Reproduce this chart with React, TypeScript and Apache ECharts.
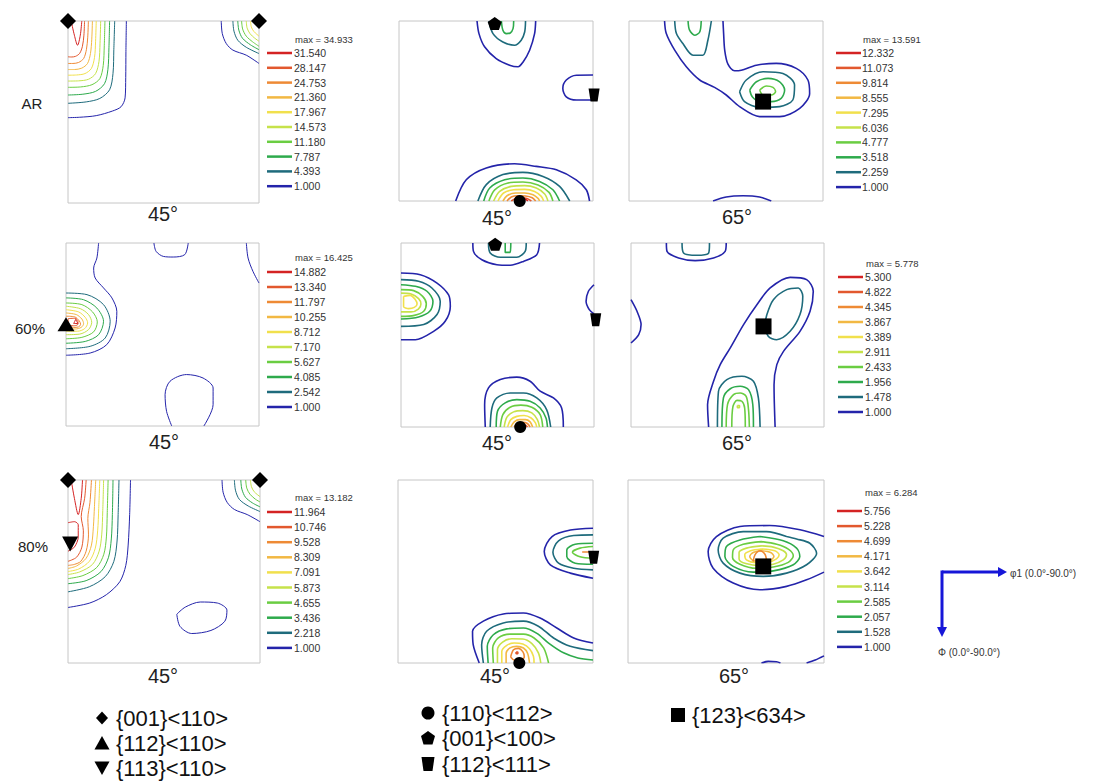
import React, { useEffect, useRef } from "react";
import * as echarts from "echarts";

// ---------- colours of the ten contour levels (level 1 = lowest) ----------
const LEVEL_COLORS = ["#2424aa", "#1e6b7c", "#2eaa4c", "#6acd42", "#c6e24a", "#f1e04c", "#f2b843", "#ee8a35", "#e2582e", "#d42323"];

// ---------- legend values (top = highest level) ----------
const legendAR45 = ["31.540", "28.147", "24.753", "21.360", "17.967", "14.573", "11.180", "7.787", "4.393", "1.000"];
const maxAR45 = "34.933";
const legendAR65 = ["12.332", "11.073", "9.814", "8.555", "7.295", "6.036", "4.777", "3.518", "2.259", "1.000"];
const maxAR65 = "13.591";
const legend60_45 = ["14.882", "13.340", "11.797", "10.255", "8.712", "7.170", "5.627", "4.085", "2.542", "1.000"];
const max60_45 = "16.425";
const legend60_65 = ["5.300", "4.822", "4.345", "3.867", "3.389", "2.911", "2.433", "1.956", "1.478", "1.000"];
const max60_65 = "5.778";
const legend80_45 = ["11.964", "10.746", "9.528", "8.309", "7.091", "5.873", "4.655", "3.436", "2.218", "1.000"];
const max80_45 = "13.182";
const legend80_65 = ["5.756", "5.228", "4.699", "4.171", "3.642", "3.114", "2.585", "2.057", "1.528", "1.000"];
const max80_65 = "6.284";

const rowLabels = ["AR", "60%", "80%"];
const sectionLabels = ["45°", "45°", "65°"];

// ---------- contour lines: [level, [[phi1, Phi], ...]] ----------
const cAR45a: [number, number[][]][] = [
  [1, [[27.5, 0], [27.3, 15], [27.2, 28], [26.9, 38], [25, 42.4], [21, 44.5], [13.3, 46.8], [5.5, 47.6], [0, 47.8]]],
  [2, [[22, 0], [21.6, 14], [21.2, 26], [19.6, 34], [15, 38.3], [8.6, 40], [0, 40.7]]],
  [3, [[19.6, 0], [19.3, 13], [18.8, 24], [17.2, 31], [13, 34.8], [7, 36.2], [0, 36.6]]],
  [4, [[17.4, 0], [17.1, 12], [16.6, 22], [15, 28.5], [11.3, 31.5], [6, 32.6], [0, 32.8]]],
  [5, [[15.4, 0], [15.1, 11], [14.6, 20], [13, 26], [9.7, 28.8], [5, 29.6], [0, 29.7]]],
  [6, [[13.3, 0], [13, 10], [12.5, 18], [11, 23.5], [8, 26], [4, 26.7], [0, 26.8]]],
  [7, [[11.5, 0], [11.2, 9], [10.6, 16], [9.2, 21], [6.5, 23.3], [3, 24], [0, 24]]],
  [8, [[9.6, 0], [9.3, 8], [8.7, 14], [7.4, 18.5], [5, 20.5], [2.3, 21], [0, 21]]],
  [9, [[7.8, 0], [7.5, 7], [6.8, 12.5], [5.5, 16], [3.5, 17.5], [1.5, 17.8], [0, 17.7]]],
  [10, [[1.5, 0], [3, 7], [4.5, 12], [5.8, 7], [6.5, 0]]],
  [1, [[72.2, 0], [72.7, 6.2], [74.6, 11.2], [77.7, 14.4], [84, 16.9], [90, 21]]],
  [2, [[77.7, 0], [78.2, 5], [80, 9.5], [84, 13], [90, 16.1]]],
  [3, [[80, 0], [80.5, 4.5], [82.2, 8.5], [86, 11.8], [90, 14.2]]],
  [4, [[81.8, 0], [82.3, 4], [84, 7.5], [87, 10.3], [90, 12.5]]],
  [5, [[84, 0], [84.4, 3.5], [85.8, 6.3], [88, 8.5], [90, 10]]],
  [6, [[86, 0], [86.4, 3], [87.6, 5.2], [90, 7.5]]],
];
const cAR45b: [number, number[][]][] = [
  [1, [[36.2, 0], [37.1, 6.3], [39.7, 12.9], [45.1, 18.8], [51.3, 22.1], [55.2, 22.9], [57.5, 20.6], [60.6, 14.6], [62.9, 6.3], [63.4, 0]]],
  [2, [[41.7, 0], [43.6, 6.3], [48.2, 10.5], [53.6, 12.1], [56.7, 9.6], [58.3, 5.5], [58.7, 0]]],
  [3, [[47.5, 0], [48.2, 4.6], [49.8, 6.3], [51.6, 6], [52.9, 3.8], [53.2, 0]]],
  [1, [[90, 27], [82.3, 27.1], [77.6, 29.5], [76, 33.7], [77.6, 37.9], [82.3, 39.5], [90, 39.5]]],
  [1, [[26.3, 90], [31.2, 79.4], [40.5, 73.5], [53.6, 71.4], [63.7, 72.7], [73, 74.4], [82.2, 79.4], [86.9, 84.4], [88.4, 90]]],
  [2, [[36.6, 90], [40.5, 81.8], [48.2, 76.8], [57.5, 75.7], [66.8, 77.7], [74.5, 82.7], [79.2, 90]]],
  [3, [[39.3, 90], [42.1, 83.5], [49, 79.4], [57.5, 78.5], [65.2, 80.2], [71.4, 84.4], [74.5, 90]]],
  [4, [[41.7, 90], [44.4, 84.4], [50.6, 81], [57.5, 80.5], [64.5, 82], [69.6, 85.7], [71.4, 90]]],
  [5, [[43.9, 90], [46.7, 85.2], [52.1, 82.7], [58.3, 82.3], [63.7, 83.5], [67.6, 86.5], [69.1, 90]]],
  [6, [[45.9, 90], [48.5, 86], [53.2, 84.4], [58.3, 84.2], [62.9, 85.2], [66, 87.7], [67.1, 90]]],
  [7, [[48.2, 90], [50.1, 87.4], [54.1, 86], [58.3, 86], [62.2, 86.9], [64.5, 88.7], [65.2, 90]]],
  [8, [[50.1, 90], [52.1, 88], [55.2, 87.4], [58.7, 87.5], [61.8, 88.4], [63.4, 90]]],
  [9, [[52.1, 90], [54.1, 88.7], [56.7, 88.4], [59.4, 88.7], [61.4, 90]]],
  [10, [[54.1, 90], [56, 89], [58.3, 89], [59.8, 90]]],
];
const cAR65: [number, number[][]][] = [
  [1, [[16.5, 0], [17.3, 6.3], [21.2, 14.6], [26.6, 22.9], [32.8, 29.5], [39.7, 33.2], [45.1, 37], [51.3, 42.8], [60.6, 47.8], [69.9, 47.8], [79.2, 43.7], [83.8, 36.2], [83, 29.5], [77.6, 23.7], [68.3, 21.2], [59.1, 22.1], [52.1, 24.6], [49, 24.9], [45.9, 21.6], [44.4, 14.6], [43.9, 6.3], [43.6, 0]]],
  [2, [[21.2, 0], [22, 6.3], [25, 11.3], [29.7, 17.1], [34.3, 17.1], [36.6, 9.6], [38.2, 0]]],
  [3, [[27.4, 0], [28.1, 4.6], [30.5, 7.1], [32.8, 5.5], [33.5, 0]]],
  [2, [[51.3, 35.4], [54.4, 29.5], [62.2, 25.4], [71.4, 26.2], [76.8, 32], [76, 39.5], [69.9, 42.8], [60.6, 43.2], [53.6, 40.3], [51.3, 35.4]]],
  [3, [[56, 34.5], [59.1, 30.4], [64.5, 28.7], [69.9, 30.4], [72.2, 34.5], [70.6, 38.7], [66, 40.3], [60.6, 40.3], [57.2, 37.9], [56, 34.5]]],
  [4, [[60.6, 34.5], [63.7, 32.5], [66.8, 33.2], [68, 35.4], [66, 37], [62.2, 37], [60.6, 34.5]]],
  [1, [[39, 90], [45.1, 88], [52.9, 87.4], [60.6, 88], [66, 90]]],
];
const c60_45a: [number, number[][]][] = [
  [1, [[15.2, 0], [14.4, 7.4], [12.9, 12.3], [13.6, 17.2], [17.5, 22.1], [21.4, 27], [23.7, 33.6], [22.9, 41.8], [19, 50], [11.3, 54.1], [0, 55.2]]],
  [1, [[41, 0], [42, 4.1], [45.4, 6.6], [50, 6.9], [55.4, 5.7], [57, 0]]],
  [1, [[84.1, 0], [84.9, 7.4], [87.2, 14], [90, 19.7]]],
  [1, [[49.3, 90], [46.9, 82.8], [46.2, 74.6], [48.5, 68], [56.2, 64.7], [63.9, 66.4], [68.6, 71.3], [68.6, 79.5], [64.3, 90]]],
  [2, [[0, 24.6], [9.8, 25.4], [17.5, 30.3], [20.6, 38.5], [18.3, 46.7], [11.3, 50.8], [0, 52]]],
  [3, [[0, 27], [8.2, 27.9], [14.4, 32], [17.5, 38.5], [15.2, 45.1], [9, 48.4], [0, 49.3]]],
  [4, [[0, 29.5], [7.4, 30.3], [12.4, 33.9], [14.6, 38.8], [12.9, 43.7], [7.4, 46.4], [0, 47.1]]],
  [5, [[0, 31.1], [6.7, 32.3], [10.5, 35.2], [12, 39], [10.5, 42.6], [6.4, 44.8], [0, 45.1]]],
  [6, [[0, 32.8], [5.9, 33.9], [9, 36.6], [10.1, 39.3], [8.7, 42.1], [5.4, 43.4], [0, 43.4]]],
  [7, [[0, 34.4], [4.8, 35.2], [7.4, 37.4], [8.2, 39.7], [7.1, 41.5], [4.3, 42.3], [0, 42.1]]],
  [8, [[0, 36], [4, 36.3], [6.2, 38.3], [6.8, 40], [5.8, 41.3], [3.5, 41.5], [0, 41.2]]],
  [9, [[1, 37.2], [4.2, 37], [5.6, 38.6], [5.4, 40.2], [3.4, 40.7], [1.2, 40.2], [1, 37.2]]],
  [10, [[4.5, 37.6], [5.6, 39.6], [3.6, 39.6], [4.5, 37.6]]],
];
const c60_45b: [number, number[][]][] = [
  [1, [[33.5, 0], [33.8, 4.1], [37.7, 8.2], [44.7, 10.6], [50.9, 10.9], [57.1, 9], [63.3, 5.7], [64.6, 0]]],
  [2, [[40.8, 0], [41.6, 4.9], [46.3, 7], [54, 7], [57.9, 4.1], [58.4, 0]]],
  [3, [[48.6, 0], [48.6, 4.6], [50.9, 4.6], [51.2, 0]]],
  [1, [[0, 14.7], [9, 15.5], [16.8, 19.6], [22.2, 25.4], [23, 31], [20.6, 38.3], [15.2, 43.2], [6.7, 47.3], [0, 47.3]]],
  [2, [[0, 17.9], [8.2, 18.7], [14.4, 22], [18.3, 28.5], [16.8, 35], [10.6, 39.9], [0, 40.8]]],
  [3, [[0, 20.4], [6.7, 21.2], [12.1, 23.6], [14.9, 28.5], [13.4, 33.4], [8.2, 36.2], [0, 37.2]]],
  [4, [[0, 22.8], [5.9, 23.3], [10.1, 26.1], [11.8, 29.7], [10.6, 33.4], [6.2, 35.4], [0, 35.9]]],
  [5, [[0, 24.5], [4.7, 24.9], [8.2, 27.2], [9.3, 29.8], [8.1, 32.3], [4.7, 33.7], [0, 33.7]]],
  [6, [[1.2, 26.1], [4.3, 25.6], [6.7, 27.7], [7.5, 29.8], [6.2, 31.5], [3.6, 32.1], [1.2, 31], [1.2, 26.1]]],
  [1, [[90, 20.4], [87.4, 23.6], [86.3, 28.5], [87.8, 32.6], [90, 34.7]]],
  [1, [[39.3, 90], [39, 79.1], [40.8, 70.9], [46.3, 66.8], [54, 65.6], [60.2, 67.6], [64.9, 72.5], [71.1, 75.8], [74.9, 80.7], [75.7, 90]]],
  [2, [[41.6, 90], [42.4, 80.7], [44.7, 75.8], [50.9, 73.4], [57.1, 73.4], [63.3, 75.8], [67.9, 81.5], [69.8, 90]]],
  [3, [[44.4, 90], [45, 82.3], [48.6, 78.2], [54, 76.6], [60.2, 77.4], [64.9, 80.7], [67.6, 85.6], [68.3, 90]]],
  [4, [[46.3, 90], [47.5, 83.9], [50.9, 80.3], [55.9, 79.3], [61, 80.3], [64.9, 83.9], [66.1, 90]]],
  [5, [[48.1, 90], [49.4, 85.2], [52.5, 82.6], [56.8, 82], [61, 83.1], [63.6, 86.4], [64.6, 90]]],
  [6, [[49.7, 90], [51.2, 86.4], [54, 84.8], [57.4, 84.4], [60.7, 85.6], [62.7, 88], [63.3, 90]]],
  [7, [[51.2, 90], [52.8, 87.5], [55.2, 86.4], [58, 86.4], [60.2, 87.5], [61.4, 90]]],
  [8, [[52.8, 90], [54.3, 88.2], [56.8, 87.7], [58.9, 88.3], [60.2, 90]]],
  [9, [[54.3, 90], [55.9, 88.9], [57.7, 88.9], [59, 90]]],
];
const c60_65: [number, number[][]][] = [
  [1, [[16.5, 0], [16.8, 4.1], [22.2, 7.3], [29.9, 8.6], [38.5, 7.3], [43.9, 4.1], [44.4, 0]]],
  [1, [[0, 27.7], [2.8, 33.4], [4.7, 39.9], [3.6, 44.8], [0, 48.9]]],
  [1, [[36.2, 90], [35.7, 79.1], [38.5, 67.6], [41.6, 59.5], [46.3, 51.3], [52.5, 39.9], [58.7, 30.2], [64.9, 22], [74.2, 16.8], [81.9, 17.9], [85, 23.6], [83.5, 33.4], [78.8, 43.2], [71.1, 53], [68, 59.5], [66.7, 69.3], [67.2, 90]]],
  [2, [[23.8, 0], [24.5, 4.9], [30.7, 6], [36.2, 4.9], [36.6, 0]]],
  [2, [[63.3, 35.2], [66.4, 27.7], [72.6, 22.8], [78, 22], [80.1, 26], [78.8, 35], [74.2, 43.2], [67.9, 47.3], [64, 45.6], [62.5, 39.9], [63.3, 35.2]]],
  [2, [[40.3, 90], [40.8, 72.5], [44.7, 66.8], [51.7, 65.2], [57.1, 67.6], [59.4, 75.8], [60.2, 90]]],
  [3, [[42.4, 90], [43.1, 75.8], [46.3, 71.3], [50.9, 70.1], [54.8, 71.7], [56.8, 79.1], [57.1, 90]]],
  [4, [[44.4, 90], [45, 79.1], [47.8, 74.2], [50.9, 73.4], [53.7, 75], [54.8, 81.5], [55.2, 90]]],
  [4, [[47, 90], [47.5, 80.2], [49.4, 77], [51.7, 77.4], [53, 80.7], [53.3, 90]]],
  [5, [[49.6, 79.5], [50.6, 79.5], [50.6, 80.5], [49.6, 80.5], [49.6, 79.5]]],
];
const c80_45a: [number, number[][]][] = [
  [1, [[29.3, 0], [28.9, 17], [28.2, 32], [27.1, 42], [24.3, 50], [18, 56.4], [10.2, 60.5], [0, 62.7]]],
  [2, [[23.9, 0], [23.5, 17], [23, 30], [21.5, 40], [17.5, 47.5], [10, 52.5], [0, 55]]],
  [3, [[21.1, 0], [20.8, 17], [20.3, 29], [19, 38], [15.5, 45], [8.5, 49.5], [0, 51]]],
  [4, [[18.8, 0], [18.4, 16], [18, 28], [16.8, 36.5], [13.5, 43], [7, 47], [0, 48.5]]],
  [5, [[16.7, 0], [16.3, 15], [15.8, 27], [14.6, 35], [11.5, 41.5], [5.5, 45.2], [0, 46.5]]],
  [6, [[14.9, 0], [14.4, 14], [13.9, 25], [12.8, 33.5], [10, 40], [5, 43.8], [0, 45]]],
  [7, [[13, 0], [12.4, 13], [11.9, 23], [11, 32], [8.5, 38.5], [4, 42.3], [0, 43.5]]],
  [8, [[11, 0], [10.3, 11], [9.3, 19], [9.6, 27], [8.5, 35], [6, 40], [3, 41.5], [0, 42]]],
  [9, [[8.5, 0], [7.8, 9], [6.2, 18], [7.2, 25], [6.5, 33], [4, 38], [0, 40]]],
  [10, [[1.5, 0], [3, 9], [4.8, 17], [6.2, 9], [6.8, 0]]],
  [10, [[0, 21], [3, 20.5], [4.8, 22], [4.8, 28], [3, 33], [0, 35]]],
  [1, [[72.2, 0], [72.7, 6], [74.6, 11], [78, 14.5], [84, 17], [90, 20.5]]],
  [2, [[78, 0], [78.5, 5], [80.3, 9.5], [84.5, 12.8], [90, 15.5]]],
  [3, [[81, 0], [81.5, 4.5], [83.2, 8.5], [86.5, 11.3], [90, 13.2]]],
  [4, [[83.3, 0], [83.8, 4], [85.3, 7], [87.8, 9.4], [90, 10.8]]],
  [5, [[85.5, 0], [86, 3.3], [87.3, 5.8], [90, 8.2]]],
  [1, [[51, 66], [55, 62.5], [62, 60], [70, 60.5], [74.5, 64], [73.5, 69.5], [67, 74], [58, 75.5], [52.5, 72], [51, 66]]],
];
const c80_45b: [number, number[][]][] = [
  [1, [[90, 23.7], [79.6, 24.6], [71.1, 27.8], [67.5, 35.2], [70.3, 41.7], [79.5, 45.8], [90, 48.3]]],
  [2, [[90, 27], [81.1, 27.3], [74.1, 29.9], [71.5, 35.5], [74.1, 40.9], [81.1, 43.4], [90, 44.2]]],
  [3, [[90, 31.1], [81.8, 31.6], [77.9, 34.4], [77.9, 37.6], [81.8, 40.9], [90, 41.4]]],
  [4, [[90, 32.7], [84, 33.5], [80.5, 35.5], [84, 37.8], [90, 38.6]]],
  [8, [[85, 35.4], [90, 35.4]]],
  [1, [[37.5, 90], [34.7, 81], [34.4, 74.4], [39.4, 69.4], [48.6, 65.9], [57.9, 65.4], [65.6, 67.9], [73.3, 72.8], [81.1, 77.7], [90, 80.2]]],
  [2, [[39.4, 90], [38.6, 81], [40.9, 74.4], [48.6, 70.3], [57.9, 69.4], [64.8, 71.9], [71.8, 77.7], [79.5, 81.8], [90, 83.9]]],
  [3, [[41.6, 90], [41.2, 81.8], [44, 76.1], [50.2, 73.2], [57.9, 72.8], [64.1, 75.4], [69.5, 80.2], [76.4, 85], [83, 87.5], [90, 88.5]]],
  [4, [[44, 90], [43.7, 82.6], [46.3, 77.7], [51.7, 75.8], [57.9, 75.8], [62.8, 77.7], [67.2, 82.6], [69.5, 90]]],
  [5, [[45.9, 90], [45.9, 83.5], [48.3, 79.7], [52.5, 78.1], [57.6, 78.2], [61.8, 80.5], [64.8, 85], [65.9, 90]]],
  [6, [[47.9, 90], [47.9, 84.3], [50.2, 81.3], [53.6, 80.2], [57.6, 80.7], [60.7, 83], [62.5, 86.7], [62.8, 90]]],
  [7, [[49.9, 90], [49.9, 85.2], [51.7, 82.6], [54.8, 81.8], [57.9, 82.6], [59.8, 85.2], [60.7, 90]]],
  [8, [[52, 87], [53.3, 83.5], [55.6, 82.8], [57.6, 84.4], [58.3, 87], [56.7, 88.5], [53.6, 88.5], [52, 87]]],
  [9, [[54.5, 84.6], [55.3, 84.6], [55.3, 85.4], [54.5, 85.4], [54.5, 84.6]]],
];
const c80_65: [number, number[][]][] = [
  [1, [[90, 27.8], [79, 24.5], [65.1, 22.4], [51.4, 22.9], [40.6, 27.8], [36.8, 35.2], [39.1, 43.4], [48.3, 50.7], [60.6, 54], [72.8, 52.3], [82, 49.1], [90, 45.3]]],
  [2, [[72.8, 27.8], [63.6, 25.4], [52.9, 25.4], [43.7, 28.6], [41.4, 34.4], [43.7, 40.9], [51.4, 45.8], [62.1, 47.4], [72.8, 45.8], [82, 41.7], [86.6, 36], [83.5, 31.1], [77.4, 29], [72.8, 27.8]]],
  [3, [[60.6, 27.8], [51.4, 29.5], [45.2, 32.7], [44.5, 37.6], [48.3, 42.5], [57.5, 45.3], [66.7, 44.7], [75.9, 41.7], [78.9, 37.6], [77.4, 33.5], [71.3, 29.9], [60.6, 27.8]]],
  [4, [[61.3, 30.3], [52.9, 31.6], [48.3, 34.4], [48, 38.1], [51.4, 41.4], [59, 43.4], [66.7, 42.8], [73.6, 40.5], [75.9, 37.2], [73.6, 34], [68.3, 31.6], [61.3, 30.3]]],
  [5, [[61.3, 32.4], [54.4, 33.5], [51, 35.7], [51, 38.8], [54.1, 41.1], [60.6, 42.1], [66.7, 41.4], [71.3, 39.3], [72.8, 36.8], [71.3, 34.8], [66.7, 33], [61.3, 32.4]]],
  [6, [[61.3, 33.9], [56.3, 34.8], [53.6, 36.8], [54.4, 39.3], [59, 40.7], [64.4, 40.4], [68.2, 38.8], [69.4, 36.8], [67.4, 34.8], [61.3, 33.9]]],
  [7, [[61.3, 34.8], [57.5, 35.7], [55.9, 37.6], [57.5, 39.6], [61.3, 40.1], [65.1, 39.6], [67, 37.6], [65.5, 35.7], [61.3, 34.8]]],
  [8, [[57.5, 40.1], [58.3, 36.8], [60.6, 34.8], [62.9, 36.5], [63.7, 40.1]]],
  [1, [[61.3, 90], [64.4, 89.2], [68.2, 89.4], [70, 90]]],
  [1, [[82, 90], [86, 88.5], [90, 86.5]]],
];

// ---------- texture component markers: [kind, phi1, Phi] ----------
const mAR45a: [string, number, number][] = [["diamond", 0, 0], ["diamond", 90, 0]];
const mAR45b: [string, number, number][] = [["pentagon", 44.4, 1.3], ["trapezoid", 90.5, 37], ["circle", 56, 90]];
const mAR65: [string, number, number][] = [["square", 62.2, 40.3]];
const m60_45a: [string, number, number][] = [["triangle", 0, 40]];
const m60_45b: [string, number, number][] = [["pentagon", 43.9, 0.6], ["trapezoid", 90.8, 37.5], ["circle", 55.6, 90]];
const m60_65: [string, number, number][] = [["square", 61.8, 40.8]];
const m80_45a: [string, number, number][] = [["diamond", 0, 0], ["diamond", 90, 0], ["down", 1, 31.5]];
const m80_45b: [string, number, number][] = [["trapezoid", 90.3, 38], ["circle", 56, 90]];
const m80_65: [string, number, number][] = [["square", 62.1, 42.5]];

// bottom key
const keyNames = ["{001}<110>", "{112}<110>", "{113}<110>", "{110}<112>", "{001}<100>", "{112}<111>", "{123}<634>"];
const keyKinds = ["diamond", "triangle", "down", "circle", "pentagon", "trapezoid", "square"];

const SYMBOLS: Record<string, string> = {
  diamond: "diamond",
  triangle: "triangle",
  down: "path://M0,0 L100,0 L50,90 Z",
  circle: "circle",
  pentagon: "path://M50,0 L98,35 L79,92 L21,92 L2,35 Z",
  trapezoid: "path://M0,0 L100,0 L82,120 L18,120 Z",
  square: "rect",
};
const SIZES: Record<string, number[]> = {
  diamond: [16, 16],
  triangle: [17, 14],
  down: [16, 15],
  circle: [12, 12],
  pentagon: [14, 13],
  trapezoid: [11, 13],
  square: [16, 16],
};

const FONT = '"Liberation Sans", Arial, sans-serif';

// layout of the nine panels
const PANELS = [
  { box: [68, 21, 191, 182], c: cAR45a, m: mAR45a, lw: 1, lab: [163, 214] },
  { box: [399, 21, 194, 180], c: cAR45b, m: mAR45b, lw: 1.6, lab: [497, 218] },
  { box: [629, 21, 194, 180], c: cAR65, m: mAR65, lw: 1.6, lab: [737, 217] },
  { box: [66, 243, 193, 183], c: c60_45a, m: m60_45a, lw: 1, lab: [164, 442] },
  { box: [401, 243, 193, 184], c: c60_45b, m: m60_45b, lw: 1.6, lab: [497, 443] },
  { box: [631, 243, 193, 184], c: c60_65, m: m60_65, lw: 1.6, lab: [737, 443] },
  { box: [68, 480, 192, 183], c: c80_45a, m: m80_45a, lw: 1, lab: [163, 676] },
  { box: [398, 480, 195, 183], c: c80_45b, m: m80_45b, lw: 1.6, lab: [495, 676] },
  { box: [628, 480, 196, 183], c: c80_65, m: m80_65, lw: 1.6, lab: [734, 676] },
];
const LEGENDS = [
  { v: legendAR45, max: maxAR45, lx: 267, tx: 294, top: 53, step: 14.8, my: 39 },
  { v: legendAR65, max: maxAR65, lx: 836, tx: 862, top: 53, step: 14.9, my: 39 },
  { v: legend60_45, max: max60_45, lx: 267, tx: 294, top: 272, step: 15, my: 257 },
  { v: legend60_65, max: max60_65, lx: 838, tx: 865, top: 277, step: 15, my: 263 },
  { v: legend80_45, max: max80_45, lx: 267, tx: 294, top: 512, step: 15.1, my: 497 },
  { v: legend80_65, max: max80_65, lx: 837, tx: 864, top: 511, step: 15.1, my: 492 },
];
const ROW_LABEL_POS = [[32, 103], [30, 328], [33, 546]];
const KEY_POS = [[102, 718], [102, 743], [102, 768], [428, 713], [428, 738], [428, 764], [678, 715]];

function keyShape(kind: string, x: number, y: number): any {
  const st = { fill: "#000" };
  switch (kind) {
    case "diamond":
      return { type: "polygon", shape: { points: [[x, y - 6.5], [x + 6, y], [x, y + 6.5], [x - 6, y]] }, style: st };
    case "triangle":
      return { type: "polygon", shape: { points: [[x, y - 7], [x + 7.5, y + 6.5], [x - 7.5, y + 6.5]] }, style: st };
    case "down":
      return { type: "polygon", shape: { points: [[x - 7.5, y - 6.5], [x + 7.5, y - 6.5], [x, y + 7]] }, style: st };
    case "circle":
      return { type: "circle", shape: { cx: x, cy: y, r: 6.5 }, style: st };
    case "pentagon":
      return { type: "polygon", shape: { points: [[x, y - 7], [x + 7, y - 2], [x + 4.5, y + 6.5], [x - 4.5, y + 6.5], [x - 7, y - 2]] }, style: st };
    case "trapezoid":
      return { type: "polygon", shape: { points: [[x - 6.5, y - 7], [x + 6.5, y - 7], [x + 4.5, y + 7], [x - 4.5, y + 7]] }, style: st };
    default:
      return { type: "rect", shape: { x: x - 7, y: y - 7, width: 14, height: 14 }, style: st };
  }
}

export default function App() {
  const ref = useRef<HTMLDivElement>(null);
  useEffect(() => {
    if (!ref.current) return;
    const chart = echarts.init(ref.current, null, { renderer: "svg" });
    const grid: any[] = [];
    const xAxis: any[] = [];
    const yAxis: any[] = [];
    const series: any[] = [];
    const graphic: any[] = [];

    PANELS.forEach((p, i) => {
      grid.push({ left: p.box[0], top: p.box[1], width: p.box[2], height: p.box[3], show: true, borderColor: "#c6c6c6", borderWidth: 1, backgroundColor: "#fff" });
      xAxis.push({ type: "value", gridIndex: i, min: 0, max: 90, show: false });
      yAxis.push({ type: "value", gridIndex: i, min: 0, max: 90, inverse: true, show: false });
      p.c.forEach(([lv, pts]) => {
        series.push({
          type: "line", xAxisIndex: i, yAxisIndex: i, data: pts, symbol: "none", showSymbol: false,
          smooth: 0.3, silent: true, clip: true, z: 3,
          lineStyle: { color: LEVEL_COLORS[lv - 1], width: p.lw },
        });
      });
      p.m.forEach(([kind, x, y]) => {
        series.push({
          type: "scatter", xAxisIndex: i, yAxisIndex: i, data: [[x, y]], symbol: SYMBOLS[kind],
          symbolSize: SIZES[kind], itemStyle: { color: "#000", opacity: 1 }, clip: false, silent: true, z: 6,
        });
      });
      graphic.push({ type: "text", x: p.lab[0], y: p.lab[1], style: { text: sectionLabels[i % 3], fill: "#222", fontSize: 20, fontFamily: FONT, align: "center", verticalAlign: "middle" } });
    });

    LEGENDS.forEach((L) => {
      graphic.push({ type: "text", x: L.tx + 1, y: L.my, style: { text: "max = " + L.max, fill: "#333", fontSize: 9.5, fontFamily: FONT, align: "left", verticalAlign: "middle" } });
      L.v.forEach((val, k) => {
        const y = L.top + k * L.step;
        graphic.push({ type: "line", shape: { x1: L.lx, y1: y, x2: L.lx + 25, y2: y }, style: { stroke: LEVEL_COLORS[9 - k], lineWidth: 2.5 } });
        graphic.push({ type: "text", x: L.tx, y, style: { text: val, fill: "#333", fontSize: 10.5, fontFamily: FONT, align: "left", verticalAlign: "middle" } });
      });
    });

    rowLabels.forEach((t, i) => {
      graphic.push({ type: "text", x: ROW_LABEL_POS[i][0], y: ROW_LABEL_POS[i][1], style: { text: t, fill: "#222", fontSize: 15, fontFamily: FONT, align: "center", verticalAlign: "middle" } });
    });

    keyNames.forEach((n, i) => {
      const [x, y] = KEY_POS[i];
      graphic.push(keyShape(keyKinds[i], x, y));
      graphic.push({ type: "text", x: x + 14, y, style: { text: n, fill: "#111", fontSize: 22, fontFamily: FONT, align: "left", verticalAlign: "middle" } });
    });

    // axis direction sketch
    const blue = "#1616d8";
    graphic.push({ type: "line", shape: { x1: 942, y1: 572, x2: 999, y2: 572 }, style: { stroke: blue, lineWidth: 3 } });
    graphic.push({ type: "polygon", shape: { points: [[998, 567], [1007, 572], [998, 577]] }, style: { fill: blue } });
    graphic.push({ type: "line", shape: { x1: 942, y1: 570.5, x2: 942, y2: 628 }, style: { stroke: blue, lineWidth: 3 } });
    graphic.push({ type: "polygon", shape: { points: [[937, 627], [942, 637], [947, 627]] }, style: { fill: blue } });
    graphic.push({ type: "text", x: 1010, y: 573, style: { text: "φ1 (0.0°-90.0°)", fill: "#333", fontSize: 10, fontFamily: FONT, align: "left", verticalAlign: "middle" } });
    graphic.push({ type: "text", x: 938, y: 652, style: { text: "Φ (0.0°-90.0°)", fill: "#333", fontSize: 10, fontFamily: FONT, align: "left", verticalAlign: "middle" } });

    chart.setOption({ animation: false, backgroundColor: "#fff", grid, xAxis, yAxis, series, graphic });
    return () => chart.dispose();
  }, []);
  return <div ref={ref} style={{ position: "absolute", left: 0, top: 0, width: 1093, height: 782, background: "#fff" }} />;
}
